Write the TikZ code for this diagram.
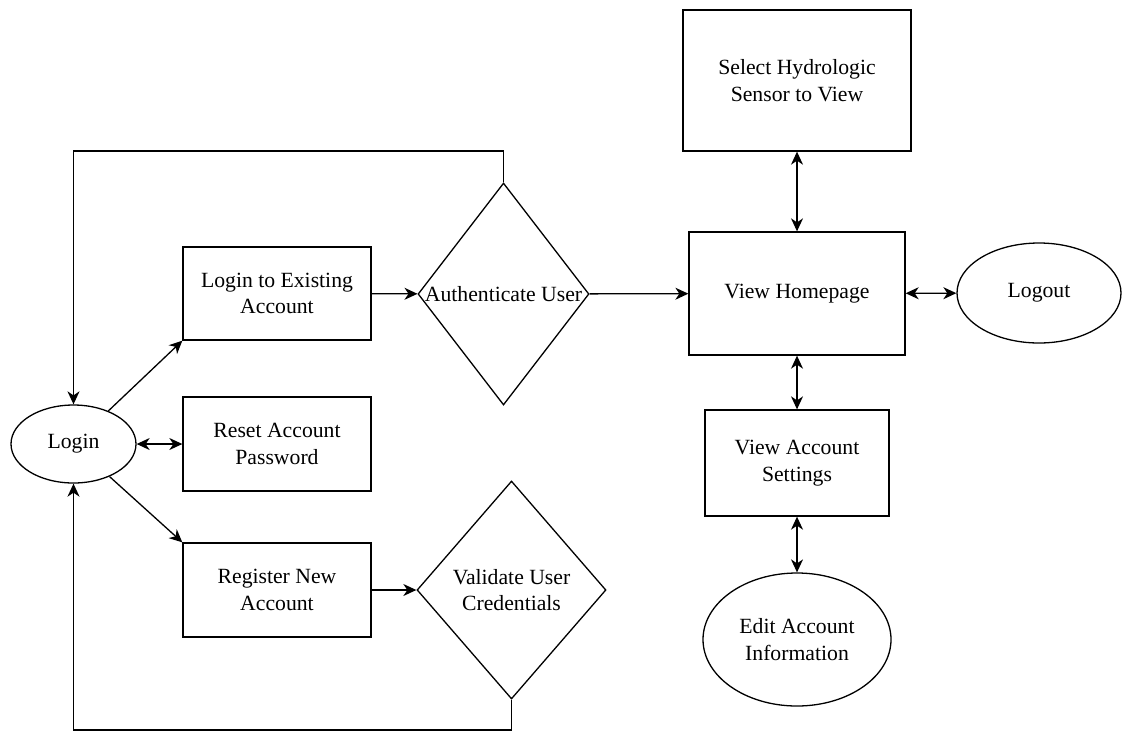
\documentclass[tikz,border=0pt]{standalone}
\usepackage{fontspec}
\newfontfamily\labelfont{Liberation Serif}
\usetikzlibrary{shapes.geometric,arrows.meta}
\begin{document}
\begin{tikzpicture}[x=1pt,y=-1pt,
  font=\labelfont\fontsize{21.7pt}{26.5pt}\selectfont,
  line width=1.3pt,
  box/.style={draw,rectangle,align=center,inner sep=0pt},
  oval/.style={draw,ellipse,align=center,inner sep=0pt},
  decision/.style={draw,diamond,inner sep=0pt},
  tip/.tip={Stealth[length=13pt,width=12pt,inset=4pt]},
  flow/.style={-tip},
  both/.style={tip-tip}]
\useasboundingbox (0,0) rectangle (1123,732);

% left side: entry point and account actions
\node[oval,minimum width=125pt,minimum height=78pt] (login) at (73.5,444) {Login};
\node[box,minimum width=188pt,minimum height=93pt] (existing) at (277,293.5) {Login to Existing\\Account};
\node[box,minimum width=188pt,minimum height=94pt] (reset) at (277,444) {Reset Account\\Password};
\node[box,minimum width=188pt,minimum height=94pt] (register) at (277,590) {Register New\\Account};

% decisions
\node[decision,minimum width=171pt,minimum height=222pt,
      label={[align=center]center:Authenticate User}] (auth) at (503.5,294) {};
\node[decision,minimum width=189pt,minimum height=218pt,
      label={[align=center]center:Validate User\\Credentials}] (validate) at (511.5,590) {};

% right side: homepage and its pages
\node[box,minimum width=216pt,minimum height=123pt] (home) at (797,293.5) {View Homepage};
\node[box,minimum width=228pt,minimum height=141pt] (sensor) at (797,80.5) {Select Hydrologic\\Sensor to View};
\node[oval,minimum width=164pt,minimum height=100pt] (logout) at (1039,293) {Logout};
\node[box,minimum width=184pt,minimum height=106pt] (settings) at (797,463) {View Account\\Settings};
\node[oval,minimum width=188pt,minimum height=133pt] (edit) at (797,639.5) {Edit Account\\Information};

% connectors
\draw[flow] (login) -- (existing.south west);
\draw[flow] (login) -- (register.north west);
\draw[both] (login) -- (reset);
\draw[flow] (existing) -- (auth);
\draw[flow] (register) -- (validate);
\draw[flow] (auth) -- (home);
\draw[flow] (auth.north) -- (auth.north |- 0,151) -| (login.north);
\draw[flow] (validate.south) -- (validate.south |- 0,730) -| (login.south);
\draw[both] (home) -- (sensor);
\draw[both] (home) -- (logout);
\draw[both] (home) -- (settings);
\draw[both] (settings) -- (edit);
\end{tikzpicture}
\end{document}
